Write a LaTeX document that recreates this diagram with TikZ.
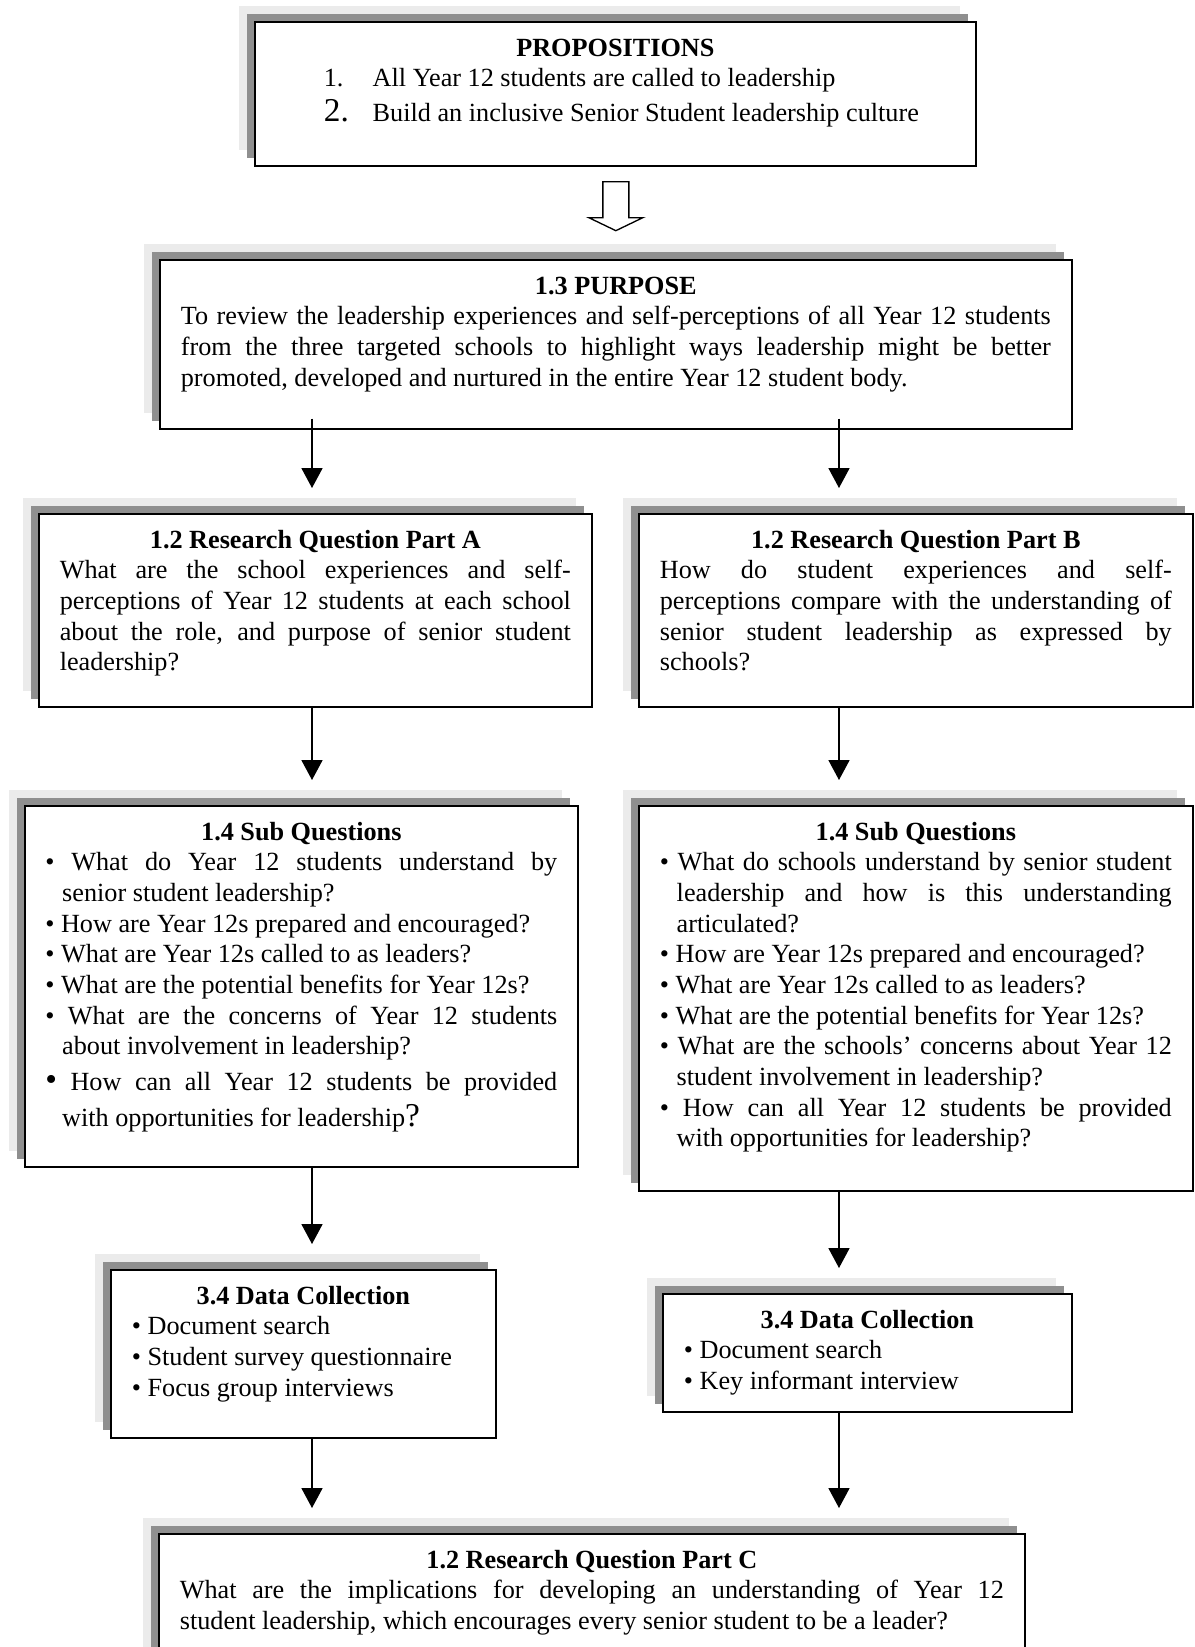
\documentclass[tikz,border=0pt]{standalone}
\usepackage{fontspec}
\setmainfont{Liberation Serif}
\usepackage{xcolor}
\usetikzlibrary{arrows.meta, positioning, shadows, calc}

\definecolor{shadelight}{HTML}{EBEBEB}
\definecolor{shadedark}{HTML}{8F8F8F}
\hbadness=10000
\hyphenpenalty=10000

\newcommand{\boxtitle}[1]{{\centering\strut\textbf{#1}\par}}
\newcommand{\qitem}{\par\hangindent=7.6pt\hangafter=1\textbullet\ }

\begin{document}
\begin{tikzpicture}[
    x=0.45pt, y=-0.45pt,
    frame/.style={draw, line width=0.75pt, fill=white, inner sep=0pt, anchor=north west,
        general shadow={fill=shadelight, shadow xshift=-7.2pt, shadow yshift=7.2pt},
        general shadow={fill=shadedark, shadow xshift=-3.6pt, shadow yshift=3.6pt}},
    txt/.style={inner sep=0pt, align=justify, font=\fontsize{11.8}{13.8}\selectfont},
    arrow/.style={-{Triangle[width=9.5pt, length=9pt]}, line width=0.6pt},
    hollowarrow/.style={line width=0.6pt, fill=white}
]
    \path[use as bounding box, fill=white] (0,0) rectangle (1195,1647);
    \clip (0,0) rectangle (1195,1647);

    % frames with their double shadow
    \node[frame, minimum width=324.45pt, minimum height=64.8pt] (props) at (254,21) {};
    \node[frame, minimum width=410.4pt, minimum height=76.05pt] (purpose) at (159,259) {};
    \node[frame, minimum width=248.85pt, minimum height=86.85pt] (rqa) at (38,513) {};
    \node[frame, minimum width=249.3pt, minimum height=86.85pt] (rqb) at (638,513) {};
    \node[frame, minimum width=248.85pt, minimum height=162.45pt] (sqa) at (24,805) {};
    \node[frame, minimum width=249.3pt, minimum height=173.25pt] (sqb) at (638,805) {};
    \node[frame, minimum width=173.25pt, minimum height=75.6pt] (dca) at (110,1269) {};
    \node[frame, minimum width=184.05pt, minimum height=53.1pt] (dcb) at (662,1293) {};
    \node[frame, minimum width=389.7pt, minimum height=90pt] (rqc) at (158,1533) {};

    % texts
    \node[txt, text width=305.55pt, below=6pt of props.north] (props-text) {\boxtitle{PROPOSITIONS}
        \hspace*{21.6pt}\makebox[22pt][l]{1.}All Year 12 students are called to leadership\par
        {\fontsize{11.8}{15.75}\selectfont\hspace*{21.6pt}\makebox[22pt][l]{\fontsize{15}{15.75}\selectfont 2.}Build an inclusive Senior Student leadership culture\par}};
    \node[txt, text width=391.5pt, below=6pt of purpose.north] (purpose-text) {\boxtitle{1.3 PURPOSE}
        To review the leadership experiences and self-perceptions of all Year 12 students\linebreak
        from the three targeted schools to highlight ways leadership might be better\linebreak
        promoted, developed and nurtured in the entire Year 12 student body.};
    \node[txt, text width=230pt, below=6pt of rqa.north] (rqa-text) {\boxtitle{1.2 Research Question Part A}
        What are the school experiences and self-\linebreak
        perceptions of Year 12 students at each school\linebreak
        about the role, and purpose of senior student\linebreak
        leadership?};
    \node[txt, text width=230.4pt, below=6pt of rqb.north] (rqb-text) {\boxtitle{1.2 Research Question Part B}
        How do student experiences and self-\linebreak
        perceptions compare with the understanding of\linebreak
        senior student leadership as expressed by\linebreak
        schools?};
    \node[txt, text width=230.4pt, below=6pt of sqa.north] (sqa-text) {\boxtitle{1.4 Sub Questions}
        \qitem What do Year 12 students understand by\linebreak senior student leadership?
        \qitem How are Year 12s prepared and encouraged?
        \qitem What are Year 12s called to as leaders?
        \qitem What are the potential benefits for Year 12s?
        \qitem What are the concerns of Year 12 students\linebreak about involvement in leadership?\par
        {\fontsize{11.8}{16.2}\selectfont\hangindent=7.6pt\hangafter=1{\fontsize{15}{16.2}\selectfont\textbullet}\ How can all Year 12 students be provided\linebreak
        with opportunities for leadership{\fontsize{15}{16.2}\selectfont ?}\par}};
    \node[txt, text width=230.4pt, below=6pt of sqb.north] (sqb-text) {\boxtitle{1.4 Sub Questions}
        \qitem What do schools understand by senior student\linebreak leadership and how is this understanding\linebreak articulated?
        \qitem How are Year 12s prepared and encouraged?
        \qitem What are Year 12s called to as leaders?
        \qitem What are the potential benefits for Year 12s?
        \qitem What are the schools’ concerns about Year 12\linebreak student involvement in leadership?
        \qitem How can all Year 12 students be provided\linebreak with opportunities for leadership?\par};
    \node[txt, text width=154.35pt, below=6pt of dca.north] (dca-text) {\boxtitle{3.4 Data Collection}
        \qitem Document search
        \qitem Student survey questionnaire
        \qitem Focus group interviews\par};
    \node[txt, text width=165.15pt, below=6pt of dcb.north] (dcb-text) {\boxtitle{3.4 Data Collection}
        \qitem Document search
        \qitem Key informant interview\par};
    \node[txt, text width=370.8pt, below=6pt of rqc.north] (rqc-text) {\boxtitle{1.2 Research Question Part C}
        What are the implications for developing an understanding of Year 12\linebreak
        student leadership, which encourages every senior student to be a leader?};

    % connectors
    \draw[hollowarrow] ($(props.south)+(-12.5,15)$) -- ++(0,36) -- ++(-14,0) -- ++(27,13)
        -- ++(27,-13) -- ++(-14,0) -- ++(0,-36) -- cycle;

    \coordinate (colA) at (312,0);
    \coordinate (colB) at (839,0);
    \draw[arrow] ($(purpose.south -| colA)+(0,-11)$) -- ($(rqa.north -| colA)+(0,-25)$);
    \draw[arrow] ($(purpose.south -| colB)+(0,-11)$) -- ($(rqb.north -| colB)+(0,-25)$);
    \draw[arrow] (rqa.south -| colA) -- ($(sqa.north -| colA)+(0,-25)$);
    \draw[arrow] (rqb.south -| colB) -- ($(sqb.north -| colB)+(0,-25)$);
    \draw[arrow] (sqa.south -| colA) -- ($(dca.north -| colA)+(0,-25)$);
    \draw[arrow] (sqb.south -| colB) -- ($(dcb.north -| colB)+(0,-25)$);
    \draw[arrow] (dca.south -| colA) -- ($(rqc.north -| colA)+(0,-25)$);
    \draw[arrow] (dcb.south -| colB) -- ($(rqc.north -| colB)+(0,-25)$);
\end{tikzpicture}
\end{document}
